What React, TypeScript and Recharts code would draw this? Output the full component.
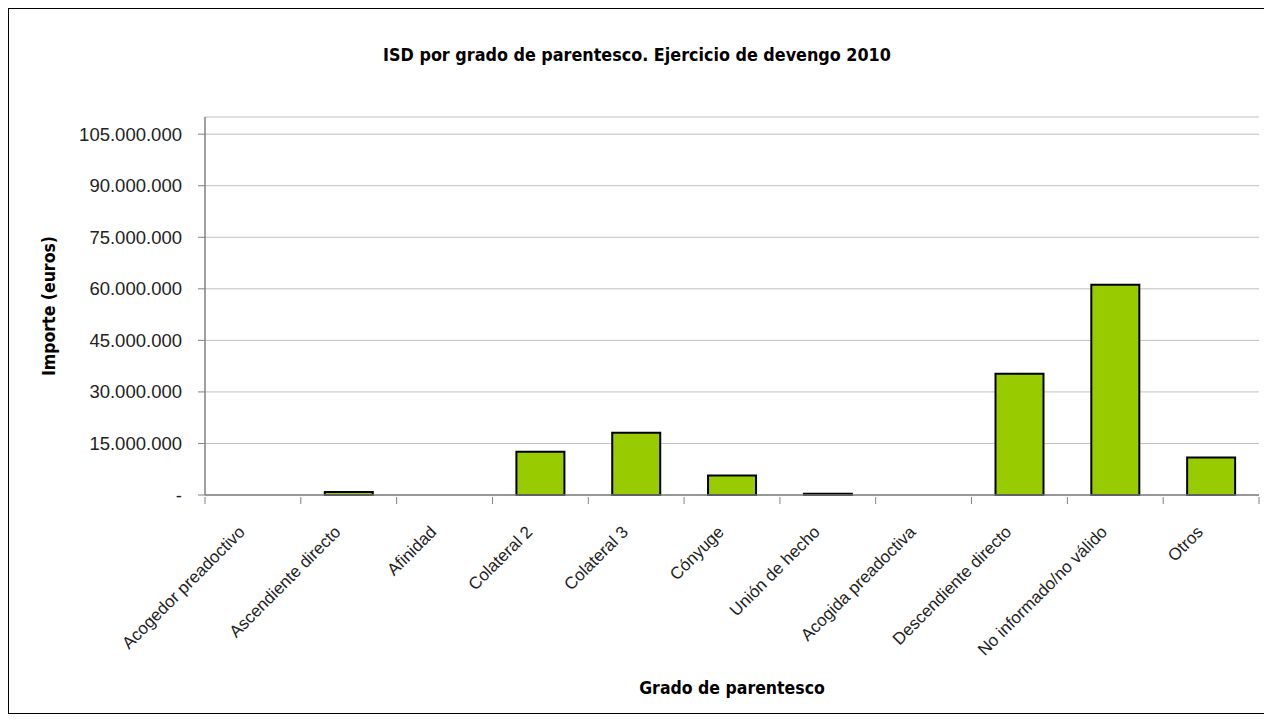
import React from 'react';
import { BarChart, Bar, XAxis, YAxis, CartesianGrid } from 'recharts';

const categorias = [
  'Acogedor preadoctivo',
  'Ascendiente directo',
  'Afinidad',
  'Colateral 2',
  'Colateral 3',
  'Cónyuge',
  'Unión de hecho',
  'Acogida preadoctiva',
  'Descendiente directo',
  'No informado/no válido',
  'Otros',
];

const importes = [0, 900000, 0, 12600000, 18100000, 5700000, 350000, 0, 35300000, 61200000, 10900000];

const yTicks = [0, 15000000, 30000000, 45000000, 60000000, 75000000, 90000000, 105000000];

const data = categorias.map((name, i) => ({ name, value: importes[i] }));

const CHART_W = 1256;
const CHART_H = 704;
const PLOT_LEFT = 196;
const PLOT_RIGHT = 6;
const BAND = (CHART_W - PLOT_LEFT - PLOT_RIGHT) / categorias.length;
const FONT = '"Liberation Sans", Arial, sans-serif';
const BOLD_FONT = '"Liberation Sans Narrow", "DejaVu Sans Condensed", Arial, sans-serif';

const formatImporte = (v: number) =>
  v === 0 ? '-' : String(v).replace(/\B(?=(\d{3})+(?!\d))/g, '.');

// ticks go between categories, like the original
const XTick = (props: any) => {
  const { x, y, payload, index } = props;
  const half = BAND / 2;
  return (
    <g>
      <line x1={x - half} x2={x - half} y1={y} y2={y + 7} stroke="#808080" />
      {index === categorias.length - 1 && (
        <line x1={x + half} x2={x + half} y1={y} y2={y + 7} stroke="#808080" />
      )}
      <text
        transform={`translate(${x - 7},${y + 36}) rotate(-45)`}
        textAnchor="end"
        fontSize={17}
        fontFamily={FONT}
        fill="#222"
      >
        {payload.value}
      </text>
    </g>
  );
};

const App: React.FC = () => {
  return (
    <div
      style={{
        position: 'relative',
        width: CHART_W,
        height: CHART_H,
        border: '1px solid #000',
        background: '#fff',
      }}
    >
      <div
        style={{
          position: 'absolute',
          top: 35,
          left: 0,
          width: '100%',
          textAlign: 'center',
          fontFamily: BOLD_FONT,
          fontWeight: 'bold',
          fontSize: 17.8,
          color: '#000',
        }}
      >
        ISD por grado de parentesco. Ejercicio de devengo 2010
      </div>
      <BarChart
        width={CHART_W}
        height={CHART_H}
        data={data}
        margin={{ top: 108, right: PLOT_RIGHT, left: 0, bottom: 0 }}
        barCategoryGap="25%"
      >
        <CartesianGrid vertical={false} stroke="#c0c0c0" />
        <XAxis
          dataKey="name"
          interval={0}
          height={218}
          tickSize={0}
          tickLine={false}
          axisLine={{ stroke: '#808080', strokeWidth: 1.5 }}
          tick={<XTick />}
          label={{
            value: 'Grado de parentesco',
            position: 'insideBottom',
            offset: 19,
            style: {
              fontFamily: BOLD_FONT,
              fontWeight: 'bold',
              fontSize: 17.5,
              fill: '#000',
            },
          }}
        />
        <YAxis
          width={PLOT_LEFT}
          domain={[0, 110000000]}
          ticks={yTicks}
          interval={0}
          tickSize={7}
          tickMargin={16}
          tickFormatter={formatImporte}
          axisLine={{ stroke: '#808080', strokeWidth: 1.5 }}
          tickLine={{ stroke: '#808080' }}
          tick={{ fill: '#222', fontSize: 18.5, fontFamily: FONT }}
          label={{
            value: 'Importe (euros)',
            angle: -90,
            position: 'insideLeft',
            offset: 40,
            style: {
              textAnchor: 'middle',
              fontFamily: BOLD_FONT,
              fontWeight: 'bold',
              fontSize: 17.5,
              fill: '#000',
            },
          }}
        />
        <Bar dataKey="value" fill="#99cc00" stroke="#000" strokeWidth={2} isAnimationActive={false} />
      </BarChart>
    </div>
  );
};

export default App;
